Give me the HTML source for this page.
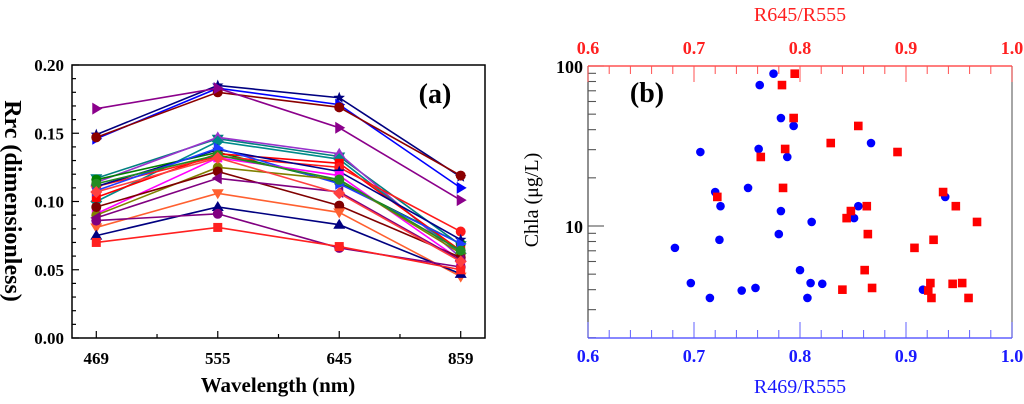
<!DOCTYPE html>
<html><head><meta charset="utf-8">
<style>
html,body{margin:0;padding:0;background:#fff;}
svg{display:block;font-family:"Liberation Serif",serif;}
</style></head>
<body>
<svg id="chart" width="1024" height="404" viewBox="0 0 1024 404" xmlns="http://www.w3.org/2000/svg"></svg>
<script>
// ---- Panel (a) data ----
const wavelengths = ["469","555","645","859"];
const yTicksA = [0,0.05,0.10,0.15,0.20];
const yTickLabelsA = ["0.00","0.05","0.10","0.15","0.20"];
const seriesColors = ["#000080","#0000ff","#8b0000","#8b008b","#008080","#9932cc","#008000","#008b8b","#ff0000","#ff1a1a","#00008b","#1e3cff","#ff00ff","#808000","#800000","#800080","#ff6030","#000080","#800080","#ff2020","#228b22","#ff4040"];
const seriesMarkers = ["star","tri-right","circle","tri-right","tri-down","tri-up","circle","diamond","square","circle","star","tri-right","square","circle","circle","tri-left","tri-down","tri-up","circle","square","circle","diamond"];
const s01=[0.149,0.185,0.176,0.118];
const s02=[0.146,0.183,0.171,0.110];
const s03=[0.147,0.180,0.169,0.119];
const s04=[0.168,0.183,0.154,0.101];
const s05=[0.117,0.146,0.133,0.068];
const s06=[0.114,0.147,0.135,0.059];
const s07=[0.116,0.136,0.114,0.069];
const s08=[0.100,0.144,0.131,0.062];
const s09=[0.103,0.135,0.128,0.064];
const s10=[0.111,0.133,0.125,0.078];
const s11=[0.111,0.138,0.122,0.072];
const s12=[0.108,0.139,0.113,0.069];
const s13=[0.091,0.132,0.119,0.057];
const s14=[0.090,0.125,0.116,0.062];
const s15=[0.096,0.122,0.097,0.059];
const s16=[0.088,0.117,0.107,0.057];
const s17=[0.081,0.106,0.092,0.045];
const s18=[0.075,0.096,0.083,0.047];
const s19=[0.086,0.091,0.066,0.052];
const s20=[0.070,0.081,0.067,0.050];
const s21=[0.113,0.134,0.116,0.064];
const s22=[0.107,0.132,0.106,0.056];
const seriesA=[s01,s02,s03,s04,s05,s06,s07,s08,s09,s10,s11,s12,s13,s14,s15,s16,s17,s18,s19,s20,s21,s22];

// ---- Panel (b) data ----
const ratio469 = [0.775,0.762,0.782,0.794,0.867,0.706,0.761,0.788,0.751,0.720,0.937,0.725,0.855,0.782,0.851,0.811,0.780,0.724,0.682,0.800,0.697,0.810,0.821,0.758,0.745,0.715,0.807,0.916];
const chlaBlue = [89.5,76,47.3,42.2,33,29,30.3,27,17.3,16.3,15.2,13.3,13.3,12.4,11.2,10.6,8.9,8.2,7.3,5.3,4.4,4.4,4.35,4.1,3.95,3.55,3.55,4.0];
const ratio645 = [0.795,0.783,0.794,0.855,0.829,0.892,0.786,0.763,0.784,0.722,0.935,0.863,0.947,0.848,0.844,0.967,0.864,0.926,0.908,0.861,0.923,0.944,0.953,0.868,0.840,0.921,0.924,0.959];
const chlaRed = [89.5,76,47.3,42.2,33,29,30.3,27,17.3,15.2,16.3,13.3,13.3,12.4,11.2,10.6,8.9,8.2,7.3,5.3,4.4,4.35,4.4,4.1,4.0,3.95,3.55,3.55];
const xTicksB = [0.6,0.7,0.8,0.9,1.0];
const xTickLabelsB = ["0.6","0.7","0.8","0.9","1.0"];

const svg=document.getElementById('chart');
const NS="http://www.w3.org/2000/svg";
function mk(tag,attrs,parent){const e=document.createElementNS(NS,tag);for(const k in attrs)e.setAttribute(k,attrs[k]);(parent||svg).appendChild(e);return e;}
function txt(s,attrs,parent){const e=mk('text',attrs,parent);e.textContent=s;return e;}

// ===== Panel (a) =====
const A={l:72,r:485,t:65,b:338};
const xA=i=>A.l+(i+0.2)*(A.r-A.l)/3.4;
const yA=v=>A.b-(v/0.2)*(A.b-A.t);
const gA=mk('g',{});


seriesA.forEach((s,k)=>{
  const col=seriesColors[k];
  const g=mk('g',{},gA);
  
  
  mk('polyline',{points:s.map((v,i)=>xA(i)+','+yA(v)).join(' '),fill:'none',stroke:col,'stroke-width':1.6},g);
  s.forEach((v,i)=>{
    const x=xA(i),y=yA(v),r=5,m=seriesMarkers[k];let e;
    if(m==='circle')e=mk('circle',{cx:x,cy:y,r:r,fill:col},g);
    else if(m==='square')e=mk('rect',{x:x-4.5,y:y-4.5,width:9,height:9,fill:col},g);
    else if(m==='diamond')e=mk('polygon',{points:`${x},${y-6} ${x+6},${y} ${x},${y+6} ${x-6},${y}`,fill:col},g);
    else if(m==='tri-up')e=mk('polygon',{points:`${x},${y-6} ${x+6},${y+4} ${x-6},${y+4}`,fill:col},g);
    else if(m==='tri-down')e=mk('polygon',{points:`${x},${y+6} ${x+6},${y-4} ${x-6},${y-4}`,fill:col},g);
    else if(m==='tri-right')e=mk('polygon',{points:`${x+6},${y} ${x-4},${y-6} ${x-4},${y+6}`,fill:col},g);
    else if(m==='tri-left')e=mk('polygon',{points:`${x-6},${y} ${x+4},${y-6} ${x+4},${y+6}`,fill:col},g);
    else {let p=[];for(let j=0;j<10;j++){const a=-Math.PI/2+j*Math.PI/5,rr=j%2?2.6:6;p.push((x+rr*Math.cos(a))+','+(y+rr*Math.sin(a)));}e=mk('polygon',{points:p.join(' '),fill:col},g);}
    
    
  });
});
const frA=mk('rect',{x:A.l,y:A.t,width:A.r-A.l,height:A.b-A.t,fill:'none',stroke:'#000','stroke-width':1.5},gA);


for(let v=0;v<=0.2001;v+=0.01){const y=yA(v),maj=Math.abs(v*20-Math.round(v*20))<1e-6;mk('line',{x1:A.l,x2:A.l+(maj?7:4),y1:y,y2:y,stroke:'#000','stroke-width':1.2},gA);}
yTicksA.forEach((v,i)=>{const t=txt(yTickLabelsA[i],{x:A.l-8,y:yA(v)+6,'text-anchor':'end','font-size':17,'font-weight':'bold'},gA);
  
  });
for(let i=0;i<4;i++){mk('line',{x1:xA(i),x2:xA(i),y1:A.b,y2:A.b-7,stroke:'#000','stroke-width':1.2},gA);
  if(i<3)mk('line',{x1:xA(i+0.5),x2:xA(i+0.5),y1:A.b,y2:A.b-4,stroke:'#000','stroke-width':1.2},gA);
  const t=txt(wavelengths[i],{x:xA(i),y:364,'text-anchor':'middle','font-size':17,'font-weight':'bold'},gA);
  
  }
const xtA=txt('Wavelength (nm)',{x:278,y:392,'text-anchor':'middle','font-size':21,'font-weight':'bold'},gA);


const ytA=txt('Rrc (dimensionless)',{x:0,y:0,transform:'translate(5,201) rotate(90)','text-anchor':'middle','font-size':24,'font-weight':'bold'},gA);


const plA=txt('(a)',{x:435,y:103,'text-anchor':'middle','font-size':28,'font-weight':'bold'},gA);



// ===== Panel (b) =====
const B={l:588,r:1012,t:66,b:338};
const xB=v=>B.l+(v-0.6)/0.4*(B.r-B.l);
const yB=v=>B.t+(2-Math.log10(v))*160;
const gB=mk('g',{});


mk('line',{x1:B.l,x2:B.l,y1:B.t,y2:B.b,stroke:'#555','stroke-width':1.3},gB);
mk('line',{x1:B.r,x2:B.r,y1:B.t,y2:B.b,stroke:'#777','stroke-width':1.3},gB);
[2,3,4,5,6,7,8,9,10,20,30,40,50,60,70,80,90,100].forEach(v=>{const y=yB(v);if(y>B.b+1)return;const maj=(v===10||v===100);
  mk('line',{x1:B.l,x2:B.l+(maj?16:8),y1:y,y2:y,stroke:'#555','stroke-width':1.1},gB);});
[["100",100],["10",10]].forEach(p=>{const t=txt(p[0],{x:B.l-5,y:yB(p[1])+7,'text-anchor':'end','font-size':18,'font-weight':'bold'},gB);
  
  });
mk('line',{x1:B.l,x2:B.r,y1:B.t,y2:B.t,stroke:'#ff3030','stroke-width':1.3},gB);
mk('line',{x1:B.l,x2:B.r,y1:B.b,y2:B.b,stroke:'#4040ff','stroke-width':1.3},gB);
for(let k=0;k<=20;k++){const v=0.6+k*0.02,x=xB(v),maj=k%5===0;
  mk('line',{x1:x,x2:x,y1:B.t,y2:B.t+(maj?16:8),stroke:'#ff5050','stroke-width':1},gB);
  mk('line',{x1:x,x2:x,y1:B.b,y2:B.b-(maj?16:8),stroke:'#6060ff','stroke-width':1},gB);}
xTicksB.forEach((v,i)=>{
  const t1=txt(xTickLabelsB[i],{x:xB(v),y:54,'text-anchor':'middle','font-size':18,'font-weight':'bold',fill:'#ff2020'},gB);
  
  
  const t2=txt(xTickLabelsB[i],{x:xB(v),y:362,'text-anchor':'middle','font-size':18,'font-weight':'bold',fill:'#1a1aff'},gB);
  
  });
const tt=txt('R645/R555',{x:800,y:21,'text-anchor':'middle','font-size':20,fill:'#ff2020'},gB);


const bt=txt('R469/R555',{x:800,y:393,'text-anchor':'middle','font-size':20,fill:'#1a1aff'},gB);


const yt=txt('Chla (μg/L)',{x:0,y:0,transform:'translate(538,200) rotate(-90)','text-anchor':'middle','font-size':20,fill:'#000'},gB);


const plB=txt('(b)',{x:647,y:102,'text-anchor':'middle','font-size':28,'font-weight':'bold'},gB);


ratio469.forEach((v,i)=>{const c=mk('circle',{cx:xB(v),cy:yB(chlaBlue[i]),r:4.3,fill:'#0000ff'},gB);
  
  });
ratio645.forEach((v,i)=>{const r=mk('rect',{x:xB(v)-4.3,y:yB(chlaRed[i])-4.3,width:8.6,height:8.6,fill:'#ff0000'},gB);
  
  });
</script>
</body></html>
